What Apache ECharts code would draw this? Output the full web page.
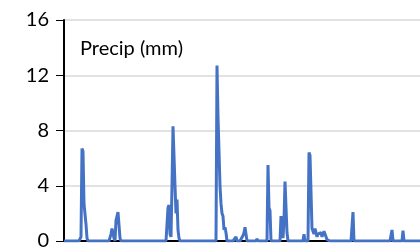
<!DOCTYPE html>
<html>
<head>
<meta charset="utf-8">
<script src="https://cdn.jsdelivr.net/npm/echarts@6/dist/echarts.min.js"></script>
<style>
  html, body { margin: 0; padding: 0; background: #fff; }
  #main { width: 420px; height: 251px; }
</style>
</head>
<body>
<div id="main"></div>
<script type="text/javascript">
// days with rain (day index from the left edge) and the amount, mm
var rainDays = [17, 18, 19, 20, 21, 22, 23,
	47, 48, 49, 50, 52, 53, 54, 55, 56,
	104, 105, 106, 107, 108, 109, 110, 111, 112, 113, 114, 115,
	153, 154, 155, 156, 157, 158, 159, 160, 161, 162,
	172, 179, 180, 181, 182, 193,
	204, 205, 206,
	217, 218, 219, 220, 221, 222, 223,
	240, 245, 246, 247, 248, 249, 250, 251, 252, 253, 254, 255, 256, 257, 258, 259, 260, 261, 262, 263,
	289, 328, 339];
var rainMm = [0.3, 6.7, 6.5, 2.7, 2.6, 1.2, 0.2,
	0.5, 0.9, 1.0, 0.2, 1.5, 1.6, 2.1, 2.2, 0.2,
	2.4, 2.6, 0.5, 0.3, 4.0, 8.3, 8.2, 4.0, 2.0, 3.0, 0.8, 0.2,
	12.7, 9.0, 6.5, 4.0, 2.7, 2.0, 1.8, 0.8, 1.0, 0.6,
	0.3, 0.4, 0.6, 1.0, 1.0, 0.15,
	5.5, 2.4, 2.2,
	1.8, 1.9, 0.2, 1.5, 4.3, 4.2, 0.6,
	0.5, 6.4, 6.2, 6.3, 0.9, 0.8, 0.5, 0.9, 0.6, 0.3, 0.5, 0.4, 0.5, 0.6, 0.3, 0.5, 0.7, 0.7, 0.3, 0.1,
	2.1, 0.8, 0.75];
var dayCount = 357;
var yTicks = [0, 4, 8, 12, 16];

var series = [];
for (var d = 0; d < dayCount; d++) {
	var k = rainDays.indexOf(d);
	series.push([d, k >= 0 ? rainMm[k] : 0]);
}

var myChart = echarts.init(document.getElementById('main'));
var option = {
	animation: false,
	title: {
		text: 'Precip (mm)',
		left: 75,
		top: 34,
		textStyle: { fontFamily: 'Lato', fontSize: 20, fontWeight: 'normal', color: '#000' }
	},
	grid: { left: 64, right: 0, top: 20, bottom: 7 },
	xAxis: [{
		type: 'value',
		min: 0,
		max: dayCount - 1,
		axisLine: { show: true, onZero: false, lineStyle: { color: '#000', width: 2 } },
		axisTick: { show: false },
		axisLabel: { show: false },
		splitLine: { show: false }
	}, {
		type: 'value',
		position: 'top',
		min: 0,
		max: dayCount - 1,
		axisLine: { show: true, lineStyle: { color: '#000', width: 2 } },
		axisTick: { show: false },
		axisLabel: { show: false },
		splitLine: { show: false }
	}],
	yAxis: {
		type: 'value',
		min: yTicks[0],
		max: yTicks[yTicks.length - 1],
		interval: 4,
		axisLine: { show: true, lineStyle: { color: '#000', width: 2 } },
		axisTick: { show: true, length: 8, lineStyle: { color: '#000', width: 1 } },
		axisLabel: { margin: 15, fontFamily: 'Lato', fontSize: 20, color: '#000' },
		splitLine: { show: true, lineStyle: { color: '#d9d9d9', width: 1.5 } }
	},
	series: [{
		type: 'line',
		data: series,
		showSymbol: false,
		lineStyle: { color: '#4472C4', width: 3 },
		z: 5
	}]
};
myChart.setOption(option);
</script>
</body>
</html>
